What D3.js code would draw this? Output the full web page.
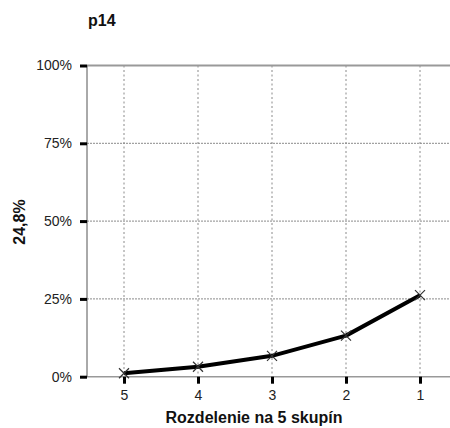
<!DOCTYPE html>
<html>
<head>
<meta charset="utf-8">
<script src="https://cdn.jsdelivr.net/npm/d3@7"></script>
<style>
  html, body { margin: 0; padding: 0; background: #fff; }
  svg { display: block; font-family: "Liberation Sans", Arial, Helvetica, sans-serif; }
</style>
</head>
<body>
<svg id="chart" width="450" height="428"></svg>
<script>
// Groups (quintiles), drawn left to right from 5 down to 1
const groups = ["5", "4", "3", "2", "1"];
// Share per group, in percent
const shares = [1.1, 3.2, 6.7, 13.2, 26.2];
// Y axis ticks
const yTicks = [0, 25, 50, 75, 100];

const title = "p14";
const yTitle = "24,8%";
const xTitle = "Rozdelenie na 5 skupín";

const svg = d3.select("#chart");
const plotLeft = 87, plotTop = 65.5, plotBottom = 376.7;

const x = d3.scalePoint().domain(groups).range([plotLeft, 457]).padding(0.5);
const y = d3.scaleLinear().domain([0, 100]).range([plotBottom, plotTop]);

const gridColor = "#8a8a8a";

// vertical dotted gridlines
svg.append("g").selectAll("line").data(groups).join("line")
  .attr("x1", d => x(d)).attr("x2", d => x(d))
  .attr("y1", plotTop).attr("y2", plotBottom)
  .attr("stroke", gridColor).attr("stroke-width", 1)
  .attr("stroke-dasharray", "2,2.5");

// horizontal dotted gridlines (inner ticks)
svg.append("g").selectAll("line").data(yTicks.filter(t => t > 0 && t < 100)).join("line")
  .attr("x1", plotLeft).attr("x2", 450)
  .attr("y1", d => y(d)).attr("y2", d => y(d))
  .attr("stroke", gridColor).attr("stroke-width", 1)
  .attr("stroke-dasharray", "2,1");

// top and bottom frame lines
svg.append("line").attr("x1", plotLeft).attr("x2", 450).attr("y1", y(100)).attr("y2", y(100))
  .attr("stroke", "#999").attr("stroke-width", 2);
svg.append("line").attr("x1", plotLeft).attr("x2", 450).attr("y1", y(0)).attr("y2", y(0))
  .attr("stroke", "#999").attr("stroke-width", 1.5);

// y axis line
svg.append("line").attr("x1", plotLeft).attr("x2", plotLeft).attr("y1", y(100)).attr("y2", y(0))
  .attr("stroke", "#555").attr("stroke-width", 1);

const tickFont = "14px";

// y axis ticks + labels
const yAxis = d3.axisLeft(y).tickValues(yTicks).tickFormat(d => d + "%").tickSize(7).tickPadding(8);
const gy = svg.append("g").attr("transform", `translate(${plotLeft},0)`).call(yAxis);
gy.select(".domain").remove();
gy.selectAll(".tick line").attr("stroke", "#000").attr("stroke-width", 3);
gy.selectAll(".tick text").attr("fill", "#222").style("font-size", tickFont)
  .style("font-family", "Liberation Sans, Arial, sans-serif");

// x axis ticks + labels
const xAxis = d3.axisBottom(x).tickSize(7).tickPadding(6);
const gx = svg.append("g").attr("transform", `translate(0,${plotBottom})`).call(xAxis);
gx.select(".domain").remove();
gx.selectAll(".tick line").attr("stroke", "#000").attr("stroke-width", 3);
gx.selectAll(".tick text").attr("fill", "#222").style("font-size", tickFont)
  .style("font-family", "Liberation Sans, Arial, sans-serif");

// series line
const pts = groups.map((g, i) => [x(g), y(shares[i])]);
svg.append("path").datum(pts)
  .attr("d", d3.line())
  .attr("fill", "none").attr("stroke", "#000").attr("stroke-width", 4)
  .attr("stroke-linejoin", "round");

// cross markers
const s = 5;
svg.append("g").selectAll("path").data(pts).join("path")
  .attr("d", d => `M${d[0]-s},${d[1]-s}L${d[0]+s},${d[1]+s}M${d[0]-s},${d[1]+s}L${d[0]+s},${d[1]-s}`)
  .attr("stroke", "#333").attr("stroke-width", 1.2).attr("fill", "none");

// titles
svg.append("text").attr("x", 88).attr("y", 26).text(title)
  .attr("font-weight", "bold").style("font-size", "16px").attr("fill", "#111");

svg.append("text").attr("transform", "translate(25,222) rotate(-90)")
  .attr("text-anchor", "middle").text(yTitle)
  .attr("font-weight", "bold").style("font-size", "16px").attr("fill", "#111");

svg.append("text").attr("x", 254).attr("y", 423).attr("text-anchor", "middle").text(xTitle)
  .attr("font-weight", "bold").style("font-size", "16px").attr("fill", "#111");
</script>
</body>
</html>
